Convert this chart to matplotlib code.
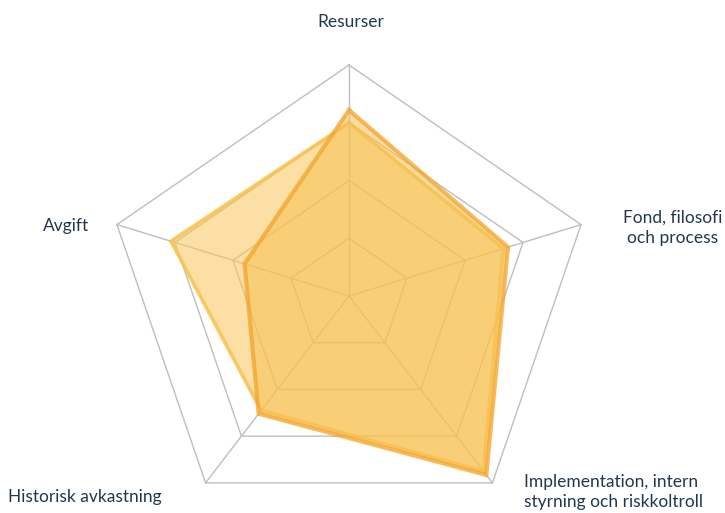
import numpy as np
import matplotlib
matplotlib.use("Agg")
import matplotlib.pyplot as plt

categories = ["Resurser", "Fond, filosofi\noch process",
              "Implementation, intern\nstyrning och riskkoltroll",
              "Historisk avkastning", "Avgift"]
series_orange = [3.22, 2.74, 3.83, 2.52, 1.80]
series_yellow = [3.00, 2.66, 3.75, 2.45, 3.07]
grid_levels = [1, 2, 3, 4]
r_max = 4

W, H = 725, 513
fig = plt.figure(figsize=(W / 100, H / 100), dpi=100)
ax = fig.add_axes([0, 0, 1, 1])
ax.set_axis_off()

cx, cy = 349, 296          # centre in pixels
px_x, px_y = 61.0, 57.75   # pixels per data unit (horizontal, vertical)
ax.set_xlim(-cx / px_x, (W - cx) / px_x)
ax.set_ylim(-(H - cy) / px_y, cy / px_y)

n = len(categories)
theta = np.deg2rad(90 - 72 * np.arange(n))
cos_t, sin_t = np.cos(theta), np.sin(theta)

def closed(vals):
    v = np.asarray(vals, float)
    x = v * cos_t
    y = v * sin_t
    return np.append(x, x[0]), np.append(y, y[0])

grid_color = "#BEBEBE"
for lv in grid_levels:
    gx, gy = closed([lv] * n)
    ax.plot(gx, gy, color=grid_color, lw=1.0, zorder=1)
for k in range(n):
    ax.plot([0, r_max * cos_t[k]], [0, r_max * sin_t[k]], color=grid_color, lw=1.0, zorder=1)

yx, yy = closed(series_yellow)
ax.fill(yx, yy, color="#F9C659", alpha=0.55, lw=0, zorder=2)
ax.plot(yx, yy, color="#F8C24E", lw=2.6, alpha=0.85, zorder=3, solid_joinstyle="miter")

ox, oy = closed(series_orange)
ax.fill(ox, oy, color="#F7C052", alpha=0.55, lw=0, zorder=4)
ax.plot(ox, oy, color="#F5A32A", lw=3.0, alpha=0.75, zorder=5, solid_joinstyle="miter")

tc = "#22384F"
fnt = ["Lato", "DejaVu Sans"]
fs = 12.5

def ptext(x, y, s, ha):
    fig.text(x / W, 1 - y / H, s, ha=ha, va="center", color=tc,
             fontsize=fs, family=fnt, linespacing=1.35)

ptext(351, 22, categories[0], "center")
ptext(673, 228, categories[1], "center")
ptext(524, 492, categories[2], "left")
ptext(8, 497, categories[3], "left")
ptext(89, 226, categories[4], "right")

fig.savefig("out.png", dpi=100)
